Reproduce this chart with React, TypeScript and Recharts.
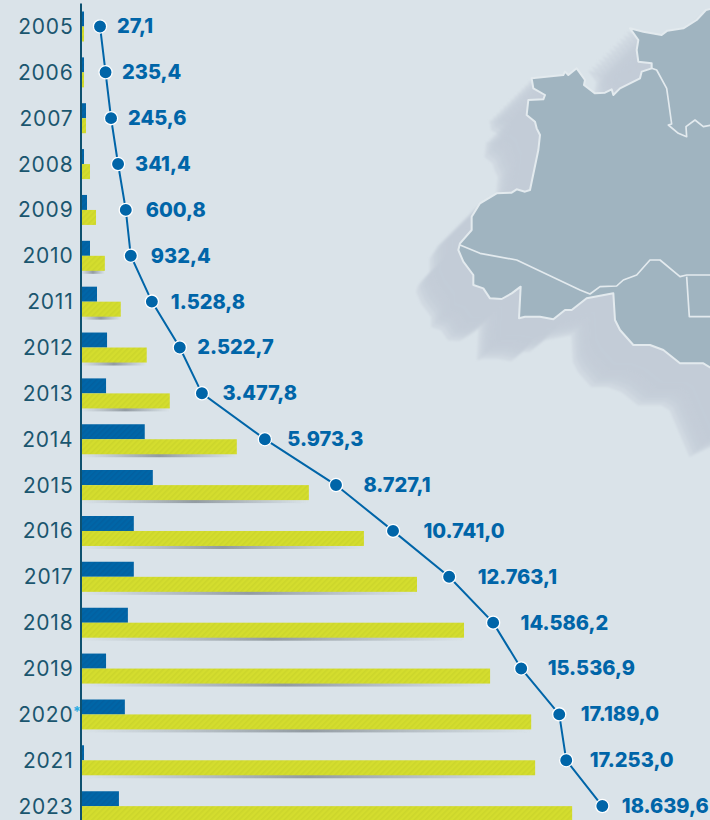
import React from "react";
import { ComposedChart, Bar, Line, XAxis, YAxis } from "recharts";

const years = ["2005","2006","2007","2008","2009","2010","2011","2012","2013","2014","2015","2016","2017","2018","2019","2020","2021","2023"];
const annualValues = [114,114,190,114,228,342,608,989,951,2420,2725,2005,2005,1780,951,1665,114,1440];
const cumulativeBars = [114,114,190,342,570,905,1510,2495,3370,5915,8650,10740,12755,14540,15530,17090,17240,18645];
const curveValues = [722,932,1141,1407,1700,1890,2690,3750,4590,6980,9680,11845,13975,15645,16710,18155,18420,19790];
const curveLabels = ["27,1","235,4","245,6","341,4","600,8","932,4","1.528,8","2.522,7","3.477,8","5.973,3","8.727,1","10.741,0","12.763,1","14.586,2","15.536,9","17.189,0","17.253,0","18.639,6"];
const labelGaps = [17,16.5,17,17,20,20,19,17.5,20.5,22.5,27.5,30.5,28.5,27.5,26.5,21.5,23.5,19.5];

const rows = years.map((year, i) => ({
  year,
  annual: annualValues[i],
  cumulative: cumulativeBars[i],
  curve: curveValues[i],
}));

const BLUE = "#0065a8";
const FONT = "Inter, 'Open Sans', sans-serif";

const MAP_D =
  "M600 85 L640 95 L695 105 L712 92 L760 85 L800 60 L828 30 L845 26 L1000 26 L1000 1200 L905 1245 L845 1105 L820 1090 L750 1090 L700 1050 L660 1035 L610 1035 L570 990 L555 960 L550 880 L470 895 L425 930 L405 930 L370 958 L330 950 L285 950 L267 955 L272 860 L245 880 L215 897 L180 895 L160 865 L130 855 L130 825 L100 785 L85 750 L90 730 L125 690 L125 650 L150 610 L200 580 L245 578 L260 568 L285 575 L300 570 L325 450 L330 405 L320 385 L315 365 L290 345 L295 300 L340 298 L345 285 L310 265 L305 235 L400 225 L405 215 L415 225 L440 205 L465 240 L462 255 L495 280 L525 278 L545 268 L550 285 L570 265 L630 235 L635 215 L665 205 L665 190 L625 185 L620 150 L625 120 Z";

const SHADOW_STEPS = [1, 2, 3, 4, 5, 6, 7, 8, 9, 10, 11, 12];

const YearTick = (props: any) => {
  const { y, payload } = props;
  return (
    <g>
      <text x={73.5} y={y + 7.5} textAnchor="end" fontFamily={FONT} fontSize={21} fontWeight={400} fill="#1a566f" letterSpacing={0.8}>
        {payload.value}
      </text>
      {payload.value === "2020" && (
        <text x={73} y={y + 3} fontFamily={FONT} fontSize={14} fontWeight={700} fill="#29abe2">*</text>
      )}
    </g>
  );
};

const CurveLabel = (props: any) => {
  const { x, y, index } = props;
  return (
    <text x={x + labelGaps[index]} y={y + 7} fontFamily={FONT} fontSize={20} fontWeight={800} fill={BLUE}>
      {curveLabels[index]}
    </text>
  );
};

const YellowBar = (props: any) => {
  const { x, y, width, height } = props;
  return (
    <g>
      {width > 20 && <rect x={x} y={y + height - 1} width={width} height={4} fill="url(#barShade)" filter="url(#soft)" />}
      <rect x={x} y={y} width={width} height={height} fill="url(#hatchYellow)" />
    </g>
  );
};

const Backdrop = () => (
  <svg width={710} height={820} style={{ position: "absolute", left: 0, top: 0 }}>
    <defs>
      <filter id="mapBlur" filterUnits="userSpaceOnUse" x={-100} y={-100} width={1500} height={1700}>
        <feGaussianBlur stdDeviation="3.5" />
      </filter>
    </defs>
    <rect width={710} height={820} fill="#dae3e9" />
    <g transform="translate(430,0) scale(0.33333)">
      <g filter="url(#mapBlur)">
        {SHADOW_STEPS.map((k) => (
          <path key={k} d={MAP_D} fill="#c4cdd6" fillOpacity={0.45} transform={`translate(${-k * 10.5},${k * 10.5})`} />
        ))}
      </g>
      <path fill="#a0b4c0" stroke="#e3eaee" strokeWidth={6} strokeLinejoin="round" d={MAP_D} />
      <path
        fill="none"
        stroke="#e3eaee"
        strokeWidth={5}
        strokeLinejoin="round"
        d="M665 205 L680 210 L710 265 L715 300 L725 372 L715 375 L745 400 L770 410 L768 380 L795 360 L820 380 L845 375 M90 735 L150 760 L260 780 L450 870 L480 882 L510 860 L560 858 L580 840 L620 825 L660 780 L690 780 L750 830 L770 825 L845 825 M770 830 L778 950 L845 950"
      />
    </g>
  </svg>
);

export default function App() {
  return (
    <div style={{ position: "fixed", left: 0, top: 0, width: 710, height: 820, overflow: "hidden" }}>
      <Backdrop />
      <div style={{ position: "absolute", left: 0, top: 0 }}>
        <ComposedChart
          width={710}
          height={829}
          data={rows}
          layout="vertical"
          margin={{ top: 3.5, right: 0, bottom: 0, left: 0 }}
          barGap={0}
          barCategoryGap={0}
        >
          <defs>
            <pattern id="hatchYellow" width={4} height={4} patternUnits="userSpaceOnUse" patternTransform="rotate(45)">
              <rect width={4} height={4} fill="#d4dd2e" />
              <rect width={1.6} height={4} fill="#ccd62b" />
            </pattern>
            <pattern id="hatchBlue" width={4} height={4} patternUnits="userSpaceOnUse" patternTransform="rotate(45)">
              <rect width={4} height={4} fill="#0066a8" />
              <rect width={1.6} height={4} fill="#0260a0" />
            </pattern>
            <linearGradient id="barShade" x1="0" x2="1" y1="0" y2="0">
              <stop offset="0" stopColor="#8b949b" stopOpacity={0} />
              <stop offset="0.5" stopColor="#808990" stopOpacity={0.8} />
              <stop offset="1" stopColor="#8b949b" stopOpacity={0} />
            </linearGradient>
            <filter id="soft" x="-5%" y="-50%" width="110%" height="200%">
              <feGaussianBlur stdDeviation="0.5" />
            </filter>
          </defs>
          <XAxis type="number" domain={[0, 23878]} hide />
          <YAxis
            type="category"
            dataKey="year"
            width={81}
            interval={0}
            tickLine={false}
            axisLine={{ stroke: "#0e5170", strokeWidth: 2 }}
            tick={<YearTick />}
          />
          <Bar dataKey="annual" barSize={15} fill="url(#hatchBlue)" isAnimationActive={false} />
          <Bar dataKey="cumulative" barSize={15} shape={<YellowBar />} isAnimationActive={false} />
          <Line
            dataKey="curve"
            stroke={BLUE}
            strokeWidth={2}
            type="linear"
            isAnimationActive={false}
            dot={{ r: 6.6, fill: BLUE, stroke: "#ffffff", strokeWidth: 1.3, fillOpacity: 1 }}
            label={<CurveLabel />}
          />
        </ComposedChart>
      </div>
    </div>
  );
}
